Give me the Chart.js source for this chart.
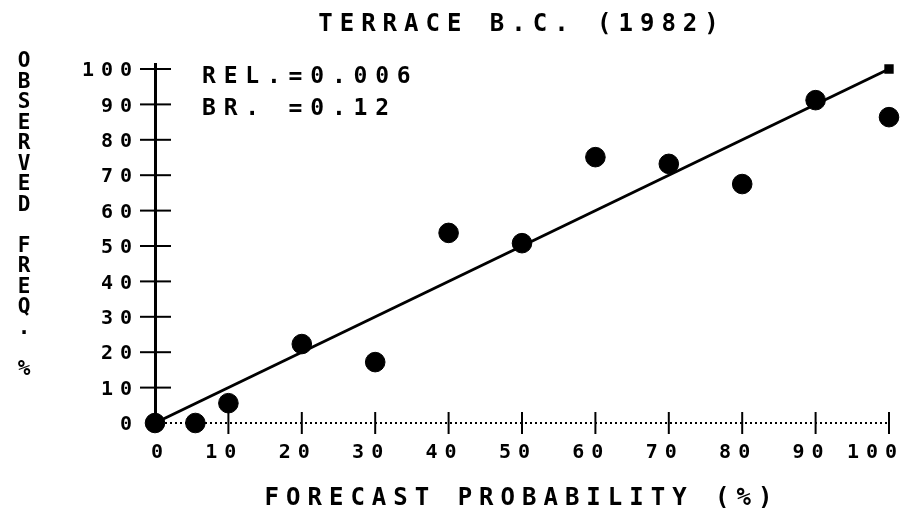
<!DOCTYPE html>
<html>
<head>
<meta charset="utf-8">
<script src="https://cdn.jsdelivr.net/npm/chart.js@4.4.0/dist/chart.umd.min.js"></script>
<style>
  html, body { margin: 0; padding: 0; background: #fff; }
  #wrap { width: 907px; height: 508px; position: relative; }
</style>
</head>
<body>
<div id="wrap"><canvas id="chart"></canvas></div>
<script>
// values
const forecast = [0, 5.5, 10, 20, 30, 40, 50, 60, 70, 80, 90, 100];
const observed = [0, 0, 5.6, 22.3, 17.2, 53.7, 50.8, 75.1, 73.2, 67.5, 91.2, 86.4];
const perfectX = [0, 100];
const perfectY = [0, 100];
const axisTicks = [0, 10, 20, 30, 40, 50, 60, 70, 80, 90, 100];

const chartTitle = 'TERRACE B.C. (1982)';
const xTitle = 'FORECAST PROBABILITY (%)';
const yTitle = 'OBSERVED FREQ. %';
const statLines = ['REL.=0.006', 'BR. =0.12'];

const FONT = '"DejaVu Sans Mono", "Liberation Mono", monospace';

// wide dot-matrix look: spread every character
const spacing = {
  id: 'spacing',
  beforeLayout(chart) { chart.ctx.letterSpacing = '7px'; },
  beforeDraw(chart) {
    const ctx = chart.ctx;
    ctx.save();
    ctx.fillStyle = '#fff';
    ctx.fillRect(0, 0, chart.width, chart.height);
    ctx.restore();
    ctx.letterSpacing = '7px';
  }
};

// axes lines, tick crosses, stacked y title, stats text
const decor = {
  id: 'decor',
  beforeDatasetsDraw(chart) {
    const {ctx, scales: {x, y}} = chart;
    const x0 = x.getPixelForValue(0), y0 = y.getPixelForValue(0);
    ctx.save();
    ctx.strokeStyle = '#000';
    // dotted x axis
    ctx.lineWidth = 2;
    ctx.setLineDash([2, 3]);
    ctx.beginPath(); ctx.moveTo(x0, y0); ctx.lineTo(x.getPixelForValue(100), y0); ctx.stroke();
    ctx.setLineDash([]);
    axisTicks.forEach(v => {
      if (v === 0) return;
      const py = y.getPixelForValue(v);
      ctx.beginPath(); ctx.moveTo(x0 - 15, py); ctx.lineTo(x0 + 16, py); ctx.stroke();
      const px = x.getPixelForValue(v);
      ctx.beginPath(); ctx.moveTo(px, y0 - 11); ctx.lineTo(px, y0 + 11); ctx.stroke();
    });
    // solid y axis, a little above 100
    ctx.lineWidth = 3;
    ctx.beginPath(); ctx.moveTo(x0 + 0.5, y.getPixelForValue(100) - 6); ctx.lineTo(x0 + 0.5, y0); ctx.stroke();
    ctx.restore();
  },
  afterDraw(chart) {
    const ctx = chart.ctx;
    ctx.save();
    ctx.fillStyle = '#000';
    ctx.letterSpacing = '0px';
    ctx.font = 'bold 21px ' + FONT;
    ctx.textAlign = 'center';
    ctx.textBaseline = 'middle';
    [...yTitle].forEach((ch, i) => ctx.fillText(ch, 24, 62 + i * 20.5));
    ctx.letterSpacing = '7.8px';
    ctx.font = 'bold 23px ' + FONT;
    ctx.textAlign = 'left';
    statLines.forEach((t, i) => ctx.fillText(t, 202, 77.5 + i * 32));
    ctx.restore();
  }
};

new Chart(document.getElementById('chart'), {
  type: 'scatter',
  data: {
    datasets: [
      {
        type: 'scatter',
        data: forecast.map((f, i) => ({x: f, y: observed[i]})),
        backgroundColor: '#000',
        borderColor: '#000',
        pointRadius: 9.8,
        pointHoverRadius: 9.8,
        clip: false,
        order: 1
      },
      {
        type: 'line',
        data: perfectX.map((v, i) => ({x: v, y: perfectY[i]})),
        borderColor: '#000',
        backgroundColor: '#000',
        borderWidth: 3,
        pointStyle: 'rect',
        pointRadius: [0, 4.5],
        pointHoverRadius: [0, 4.5],
        clip: false,
        order: 2
      }
    ]
  },
  options: {
    responsive: true,
    maintainAspectRatio: false,
    animation: false,
    events: [],
    layout: { padding: { left: 0, right: 11, top: 0, bottom: 0 } },
    plugins: {
      legend: { display: false },
      tooltip: { enabled: false },
      title: {
        display: true,
        text: chartTitle,
        color: '#000',
        fullSize: false,
        font: { family: FONT, size: 24, weight: 'bold', lineHeight: 1.2 },
        padding: { top: 10, bottom: 30.2 }
      }
    },
    scales: {
      x: {
        type: 'linear',
        min: 0,
        max: 100,
        afterFit(s) { s.height = 85; },
        afterBuildTicks(s) { s.ticks = axisTicks.map(v => ({value: v})); },
        grid: { display: false, drawTicks: false },
        border: { display: false },
        ticks: {
          autoSkip: false, maxRotation: 0, align: 'end', labelOffset: 15, padding: 18,
          color: '#000', font: { family: FONT, size: 20, weight: 'bold' }
        },
        title: {
          display: true, text: xTitle, color: '#000', padding: 0,
          font: { family: FONT, size: 24, weight: 'bold', lineHeight: 0.75 }
        }
      },
      y: {
        type: 'linear',
        min: 0,
        max: 100,
        afterFit(s) { s.width = 155; },
        afterBuildTicks(s) { s.ticks = axisTicks.map(v => ({value: v})); },
        grid: { display: false, drawTicks: false },
        border: { display: false },
        ticks: {
          padding: 16, labelOffset: 2,
          color: '#000', font: { family: FONT, size: 20, weight: 'bold' }
        }
      }
    }
  },
  plugins: [spacing, decor]
});
</script>
</body>
</html>
